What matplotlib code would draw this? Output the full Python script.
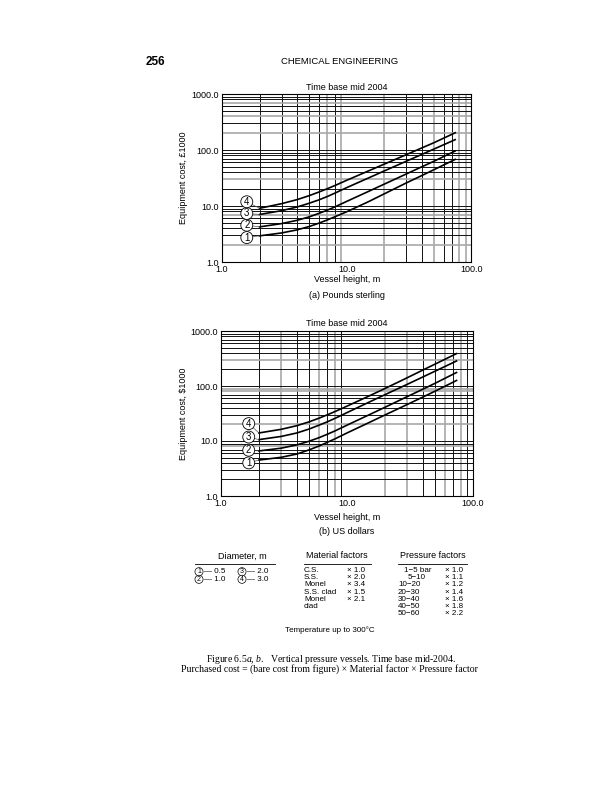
import matplotlib
matplotlib.use("Agg")
import matplotlib.pyplot as plt

plt.rcParams['font.family'] = ['Liberation Sans', 'DejaVu Sans']
plt.rcParams['mathtext.fontset'] = 'custom'
plt.rcParams['mathtext.it'] = 'Liberation Serif:italic'
plt.rcParams['mathtext.rm'] = 'Liberation Serif'

# ---------------- data ----------------
heights = [2, 3, 4, 5, 6, 7, 8, 10, 15, 20, 30, 40, 50, 74]
gbp_d05 = [2.93, 3.3, 3.75, 4.3, 4.95, 5.65, 6.4, 7.9, 12.0, 16.5, 25.8, 35, 44.5, 68]
gbp_d10 = [4.24, 4.85, 5.55, 6.4, 7.4, 8.45, 9.6, 12.1, 18.3, 24.6, 37.3, 50.2, 63, 96]
gbp_d20 = [7.06, 8.25, 9.6, 11.2, 12.9, 14.8, 16.9, 21.3, 31.8, 42.3, 63, 83.5, 104, 153]
gbp_d30 = [9.1, 11.0, 13.0, 15.3, 17.8, 20.4, 23.1, 28.8, 42.5, 56, 82.5, 109, 135, 203]

usd_d05 = [4.5, 5.05, 5.8, 6.9, 8.1, 9.5, 10.9, 14.0, 21.7, 29.7, 46, 63, 80.5, 126]
usd_d10 = [6.6, 7.4, 8.5, 9.9, 11.5, 13.3, 15.2, 19.4, 30, 41, 64, 87.5, 112, 176]
usd_d20 = [10.6, 12.1, 14.0, 16.5, 19.4, 22.4, 25.7, 32.8, 51, 69.5, 107, 146, 186, 285]
usd_d30 = [14.0, 16.3, 19.0, 22.3, 26, 30, 34.2, 43, 66, 90, 141, 195, 250, 388]

curve_labels = ['1', '2', '3', '4']
xticks = [1, 10, 100]
xtick_labels = ['1.0', '10.0', '100.0']
yticks = [1, 10, 100, 1000]
ytick_labels = ['1.0', '10.0', '100.0', '1000.0']

diam_rows = [('1', '0.5', '3', '2.0'), ('2', '1.0', '4', '3.0')]
materials = ['C.S.', 'S.S.', 'Monel', 'S.S. clad', 'Monel', 'clad']
material_factors = ['\u00d7 1.0', '\u00d7 2.0', '\u00d7 3.4', '\u00d7 1.5', '\u00d7 2.1', '']
pressures = ['1\u22125 bar', '5\u221210', '10\u221220', '20\u221230', '30\u221240', '40\u221250', '50\u221260']
pressure_factors = ['\u00d7 1.0', '\u00d7 1.1', '\u00d7 1.2', '\u00d7 1.4', '\u00d7 1.6', '\u00d7 1.8', '\u00d7 2.2']

W, H = 612, 800
fig = plt.figure(figsize=(W / 100, H / 100), dpi=100)
FS = 6.5


def fx(px):
    return px / W


def fy(py):
    return 1 - py / H


def make_axes(rect, curves, grey_v, grey_h, label_pos, ylabel, title, sub, xlab_y, sub_y, title_y):
    l, t, r, b = rect
    ax = fig.add_axes([fx(l), fy(b), fx(r - l), (b - t) / H])
    ax.set_xscale('log')
    ax.set_yscale('log')
    ax.set_xlim(1, 100)
    ax.set_ylim(1, 1000)
    for dec in [1, 10]:
        for k in range(2, 10):
            v = dec * k
            g = v in grey_v
            ax.axvline(v, color='#a8a8a8' if g else '#111111', lw=1.2 if g else 0.7, zorder=1)
    for dec in [1, 10, 100]:
        for k in range(1, 10):
            v = dec * k
            if v == 1:
                continue
            g = v in grey_h
            ax.axhline(v, color='#a8a8a8' if g else '#111111', lw=1.2 if g else 0.7, zorder=1)
    for y in curves:
        ax.plot(heights, y, color='black', lw=1.2, zorder=3, solid_joinstyle='round')
    for lab, y, (lx, ly) in zip(curve_labels, curves, label_pos):
        ax.annotate(lab, xy=(heights[0], y[0]), xytext=(lx, ly),
                    textcoords='data', fontsize=7, ha='center', va='center',
                    bbox=dict(boxstyle='circle,pad=0.1', fc='white', ec='black', lw=0.6),
                    arrowprops=dict(arrowstyle='-', lw=0.5, color='#555555',
                                    shrinkA=0, shrinkB=0), zorder=4)
    ax.set_xticks(xticks)
    ax.set_xticklabels(xtick_labels)
    ax.set_yticks(yticks)
    ax.set_yticklabels(ytick_labels)
    ax.minorticks_off()
    ax.tick_params(length=0, labelsize=FS, pad=2)
    for s in ax.spines.values():
        s.set_linewidth(0.8)
    fig.text(fx(183), fy((t + b) / 2), ylabel, rotation=90, ha='center', va='center', fontsize=FS)
    fig.text(fx(347), fy(title_y), title, ha='center', va='center', fontsize=FS)
    fig.text(fx(347), fy(xlab_y), 'Vessel height, m', ha='center', va='center', fontsize=FS)
    fig.text(fx(347), fy(sub_y), sub, ha='center', va='center', fontsize=FS)
    return ax


make_axes((222, 94, 471.5, 262),
          [gbp_d05, gbp_d10, gbp_d20, gbp_d30],
          grey_v=[7, 9, 20, 50, 80, 90], grey_h=[2, 7, 30, 200, 400, 700],
          label_pos=[(1.58, 2.73), (1.58, 4.54), (1.58, 7.36), (1.58, 11.9)],
          ylabel='Equipment cost, \u00a31000', title='Time base mid 2004',
          sub='(a) Pounds sterling', xlab_y=280, sub_y=296, title_y=88)

make_axes((221, 331, 473, 496),
          [usd_d05, usd_d10, usd_d20, usd_d30],
          grey_v=[3, 6, 8, 20, 30, 60, 80], grey_h=[8, 20, 80, 90, 300],
          label_pos=[(1.66, 4.0), (1.66, 6.8), (1.66, 11.8), (1.66, 20.7)],
          ylabel='Equipment cost, $1000', title='Time base mid 2004',
          sub='(b) US dollars', xlab_y=517, sub_y=532, title_y=323)

# header
fig.text(fx(146), fy(62), '256', ha='left', va='center', fontsize=8.5, fontweight='bold')
fig.text(fx(340), fy(62), 'CHEMICAL ENGINEERING', ha='center', va='center', fontsize=6.8)

# table
hs = 6.5
ts = 5.8
fig.text(fx(242), fy(556), 'Diameter, m', ha='center', va='center', fontsize=hs)
fig.text(fx(337), fy(556), 'Material factors', ha='center', va='center', fontsize=hs)
fig.text(fx(433), fy(556), 'Pressure factors', ha='center', va='center', fontsize=hs)
for x0, x1 in [(195, 275), (304, 371), (398, 467)]:
    fig.add_artist(plt.Line2D([fx(x0), fx(x1)], [fy(564), fy(564)], color='black', lw=0.6))

for i, (a, av, b, bv) in enumerate(diam_rows):
    yy = 571.7 + i * 7.6
    for cx, num, val in [(199, a, av), (242, b, bv)]:
        fig.text(fx(cx), fy(yy), num, ha='center', va='center', fontsize=5,
                 bbox=dict(boxstyle='circle,pad=0.08', fc='white', ec='black', lw=0.5))
        fig.text(fx(cx + 5), fy(yy), '\u2014 ' + val, ha='left', va='center', fontsize=ts)

for i, (m, f) in enumerate(zip(materials, material_factors)):
    yy = 570.7 + i * 7.1
    fig.text(fx(304), fy(yy), m, ha='left', va='center', fontsize=ts)
    if f:
        fig.text(fx(347), fy(yy), f, ha='left', va='center', fontsize=ts)

p_left = [404, 408, 398, 398, 398, 398, 398]
for i, (p, f) in enumerate(zip(pressures, pressure_factors)):
    yy = 570.7 + i * 7.1
    fig.text(fx(p_left[i]), fy(yy), p, ha='left', va='center', fontsize=ts)
    fig.text(fx(445), fy(yy), f, ha='left', va='center', fontsize=ts)

fig.text(fx(330), fy(630), 'Temperature up to 300\u00b0C', ha='center', va='center', fontsize=ts)

# caption
fig.text(fx(331), fy(659), r'Figure 6.5$a$, $b$.   Vertical pressure vessels. Time base mid-2004.',
         ha='center', va='center', fontsize=7, family='Liberation Serif')
fig.text(fx(329), fy(669),
         'Purchased cost = (bare cost from figure) \u00d7 Material factor \u00d7 Pressure factor',
         ha='center', va='center', fontsize=7, family='Liberation Serif')

fig.savefig('out.png', dpi=100)
